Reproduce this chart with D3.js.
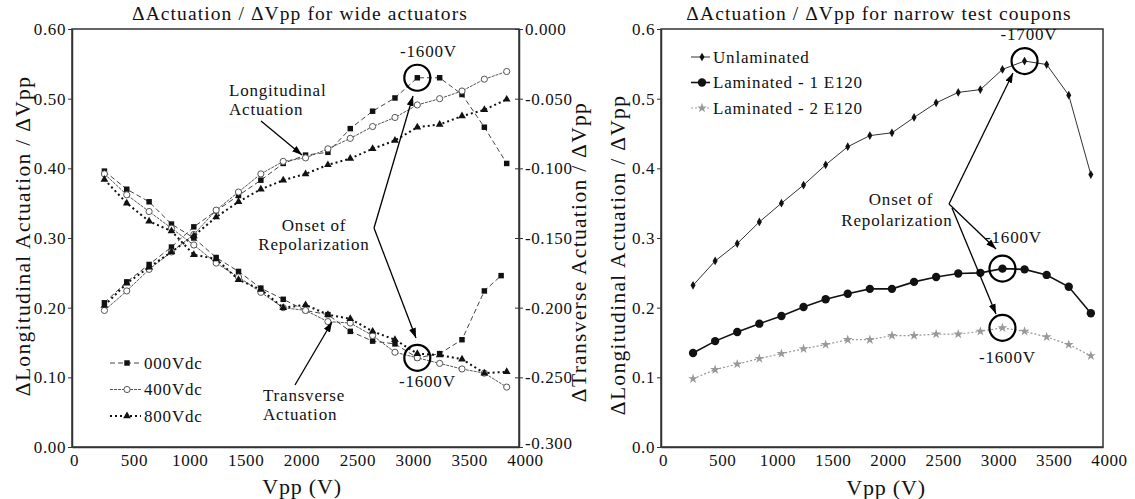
<!DOCTYPE html>
<html>
<head>
<meta charset="utf-8">
<script src="https://cdn.jsdelivr.net/npm/d3@7"></script>
<style>
body { margin: 0; background: #fff; }
svg text { fill: #111; }
</style>
</head>
<body>
<svg id="chart" width="1135" height="499"></svg>
<script>
// ---- data ----
var vpp = [290, 490, 690, 890, 1090, 1290, 1490, 1690, 1890, 2090, 2290, 2490, 2690, 2890, 3090, 3290, 3490, 3690, 3890];
var vppTrans000 = [290, 490, 690, 890, 1090, 1290, 1490, 1690, 1890, 2090, 2290, 2490, 2690, 2890, 3090, 3290, 3490, 3690, 3840];

// wide actuators, longitudinal (left axis)
var long000 = [0.207, 0.237, 0.262, 0.287, 0.316, 0.339, 0.361, 0.383, 0.407, 0.419, 0.423, 0.457, 0.482, 0.501, 0.530, 0.530, 0.506, 0.459, 0.407];
var long400 = [0.196, 0.224, 0.255, 0.280, 0.305, 0.340, 0.366, 0.392, 0.410, 0.415, 0.428, 0.443, 0.460, 0.473, 0.491, 0.500, 0.511, 0.528, 0.539];
var long800 = [0.203, 0.235, 0.258, 0.280, 0.303, 0.330, 0.352, 0.370, 0.383, 0.392, 0.405, 0.414, 0.428, 0.440, 0.459, 0.463, 0.475, 0.484, 0.499];
// wide actuators, transverse (right axis)
var trans000 = [-0.102, -0.115, -0.124, -0.140, -0.150, -0.164, -0.174, -0.186, -0.194, -0.202, -0.205, -0.217, -0.224, -0.226, -0.236, -0.233, -0.223, -0.188, -0.177];
var trans400 = [-0.104, -0.119, -0.131, -0.143, -0.155, -0.168, -0.178, -0.189, -0.200, -0.202, -0.210, -0.211, -0.220, -0.232, -0.236, -0.240, -0.244, -0.247, -0.257];
var trans800 = [-0.108, -0.125, -0.138, -0.145, -0.162, -0.165, -0.180, -0.187, -0.200, -0.198, -0.205, -0.208, -0.217, -0.223, -0.233, -0.234, -0.237, -0.247, -0.246];

// narrow test coupons
var unlaminated = [0.232, 0.267, 0.292, 0.323, 0.350, 0.376, 0.405, 0.431, 0.447, 0.451, 0.473, 0.494, 0.509, 0.513, 0.542, 0.554, 0.549, 0.505, 0.391];
var laminated1 = [0.135, 0.152, 0.165, 0.177, 0.188, 0.201, 0.212, 0.220, 0.227, 0.227, 0.237, 0.244, 0.249, 0.250, 0.256, 0.255, 0.247, 0.230, 0.192];
var laminated2 = [0.098, 0.111, 0.119, 0.127, 0.134, 0.141, 0.147, 0.154, 0.154, 0.160, 0.160, 0.162, 0.162, 0.166, 0.171, 0.166, 0.158, 0.147, 0.131];

var xTicks = [0, 500, 1000, 1500, 2000, 2500, 3000, 3500, 4000];
var yTicksLong = [0, 0.1, 0.2, 0.3, 0.4, 0.5, 0.6];
var yTicksTrans = [-0.3, -0.25, -0.2, -0.15, -0.1, -0.05, 0];
var legendWide = ["000Vdc", "400Vdc", "800Vdc"];
var legendNarrow = ["Unlaminated", "Laminated - 1 E120", "Laminated - 2 E120"];

var serif = "'Liberation Serif', 'DejaVu Serif', serif";

var svg = d3.select("#chart");

svg.append("defs").append("marker")
    .attr("id", "arrow")
    .attr("viewBox", "0 0 10 10")
    .attr("refX", 10).attr("refY", 5)
    .attr("markerWidth", 10).attr("markerHeight", 10)
    .attr("markerUnits", "userSpaceOnUse")
    .attr("orient", "auto")
  .append("path")
    .attr("d", "M0,1.5 L10,5 L0,8.5 Z")
    .style("fill", "#000");

// series styles
var styleWide = [
  {stroke: "#444", width: 1, dash: "5,3", symbol: d3.symbolSquare, size: 30, fill: "#111", sStroke: "none"},
  {stroke: "#555", width: 1, dash: "3,1", symbol: d3.symbolCircle, size: 30, fill: "#fff", sStroke: "#555"},
  {stroke: "#111", width: 2, dash: "2,3", symbol: d3.symbolTriangle, size: 26, fill: "#111", sStroke: "none"}
];
var styleNarrow = [
  {stroke: "#333", width: 1, dash: null, symbol: d3.symbolDiamond, size: 22, fill: "#111", sStroke: "none"},
  {stroke: "#111", width: 1.6, dash: null, symbol: d3.symbolCircle, size: 55, fill: "#111", sStroke: "none"},
  {stroke: "#999", width: 1.2, dash: "2,2", symbol: d3.symbolStar, size: 30, fill: "#999", sStroke: "none"}
];

function txt(sel, size, spacing) {
  return sel.style("font-family", serif)
    .style("font-size", size + "px")
    .style("letter-spacing", (spacing || 0) + "px");
}

function drawSeries(g, xs, ys, x, y, st) {
  var pts = xs.map(function(d, i) { return {x: d, y: ys[i]}; });
  var line = d3.line().x(function(d) { return x(d.x); }).y(function(d) { return y(d.y); });
  g.append("path")
    .datum(pts)
    .style("fill", "none")
    .style("stroke", st.stroke)
    .style("stroke-width", st.width)
    .style("stroke-dasharray", st.dash)
    .attr("d", line);
  g.selectAll(null)
    .data(pts)
    .enter().append("path")
    .attr("transform", function(d) { return "translate(" + x(d.x) + "," + y(d.y) + ")"; })
    .attr("d", d3.symbol().type(st.symbol).size(st.size))
    .style("fill", st.fill)
    .style("stroke", st.sStroke);
}

function legendItem(g, lx, ly, half, label, st) {
  g.append("line")
    .attr("x1", lx - half).attr("x2", lx + half - 3).attr("y1", ly).attr("y2", ly)
    .style("stroke", st.stroke).style("stroke-width", st.width)
    .style("stroke-dasharray", st.dash ? st.dash : null);
  g.append("path")
    .attr("transform", "translate(" + lx + "," + ly + ")")
    .attr("d", d3.symbol().type(st.symbol).size(st.size))
    .style("fill", st.fill).style("stroke", st.sStroke);
  txt(g.append("text"), 17, 0.8)
    .attr("x", lx + half).attr("y", ly)
    .attr("dy", "0.35em")
    .text(label);
}

function note(g, px, py, s, anchor) {
  txt(g.append("text"), 17, 0.8)
    .attr("x", px).attr("y", py)
    .attr("dy", "0.35em")
    .style("text-anchor", anchor || "middle")
    .text(s);
}

function arrow(g, x1, y1, x2, y2) {
  g.append("line")
    .attr("x1", x1).attr("y1", y1).attr("x2", x2).attr("y2", y2)
    .style("stroke", "#000").style("stroke-width", 1.3)
    .attr("marker-end", "url(#arrow)");
}

function ring(g, cx, cy) {
  g.append("circle")
    .attr("cx", cx).attr("cy", cy).attr("r", 13)
    .style("fill", "none").style("stroke", "#000").style("stroke-width", 2.2);
}

function styleAxis(ax) {
  ax.select(".domain").style("stroke", "#333").style("stroke-width", 1.5);
  ax.selectAll(".tick line").style("stroke", "#333");
  txt(ax.selectAll("text"), 17, 0.6);
}

function xAxis(g, x, y0) {
  var ax = g.append("g")
    .attr("transform", "translate(0," + y0 + ")")
    .call(d3.axisBottom(x).tickValues(xTicks).tickSize(0).tickSizeOuter(0).tickPadding(7).tickFormat(d3.format("d")));
  styleAxis(ax);
  // the scanned labels sit a little right of their ticks
  ax.selectAll(".tick text").attr("dx", function(d) { return d === 0 ? 2 : 6; });
}

function title(g, cx, cy, s) {
  txt(g.append("text"), 19.5, 1.1)
    .attr("x", cx).attr("y", cy).attr("dy", "0.35em")
    .style("text-anchor", "middle")
    .text(s);
}

function yTitle(g, cx, cy, s) {
  txt(g.append("text"), 21.5, 1.3)
    .attr("transform", "translate(" + cx + "," + cy + ") rotate(-90)")
    .attr("dy", "0.35em")
    .style("text-anchor", "middle")
    .text(s);
}

// ================= left chart: wide actuators =================
var xL = d3.scaleLinear().domain([0, 4000]).range([72, 519]);
var yL = d3.scaleLinear().domain([0, 0.6]).range([447, 29]);
var yR = d3.scaleLinear().domain([-0.3, 0]).range([447, 29]);

var left = svg.append("g");

left.append("rect")
  .attr("x", xL(0)).attr("y", yL(0.6))
  .attr("width", xL(4000) - xL(0)).attr("height", yL(0) - yL(0.6))
  .style("fill", "none").style("stroke", "#333").style("stroke-width", 1.5);

var axL = left.append("g")
  .attr("transform", "translate(" + xL(0) + ",0)")
  .call(d3.axisLeft(yL).tickValues(yTicksLong).tickSize(4).tickSizeOuter(0).tickPadding(2).tickFormat(d3.format(".2f")));
styleAxis(axL);

var axR = left.append("g")
  .attr("transform", "translate(" + xL(4000) + ",0)")
  .call(d3.axisRight(yR).tickValues(yTicksTrans).tickSize(4).tickSizeOuter(0).tickPadding(2)
    .tickFormat(function(d) { return d.toFixed(3); }));
styleAxis(axR);
axR.selectAll(".tick text").attr("dy", function(d) { return d === -0.3 ? "0.1em" : "0.32em"; });
left.append("g")
  .attr("transform", "translate(" + xL(4000) + ",0)")
  .call(d3.axisLeft(yR).tickValues(yTicksTrans).tickSize(4).tickSizeOuter(0).tickFormat(""))
  .call(function(a) { a.select(".domain").remove(); a.selectAll("line").style("stroke", "#333"); });

xAxis(left, xL, yL(0));

drawSeries(left, vpp, long000, xL, yL, styleWide[0]);
drawSeries(left, vpp, long400, xL, yL, styleWide[1]);
drawSeries(left, vpp, long800, xL, yL, styleWide[2]);
drawSeries(left, vppTrans000, trans000, xL, yR, styleWide[0]);
drawSeries(left, vpp, trans400, xL, yR, styleWide[1]);
drawSeries(left, vpp, trans800, xL, yR, styleWide[2]);

legendWide.forEach(function(name, i) {
  legendItem(left, 127, 363 + i * 26.5, 17, name, styleWide[i]);
});

// annotations
ring(left, xL(vpp[14]), yL(long000[14]));
ring(left, xL(vpp[14]), yR(trans000[14]));
note(left, xL(3190), 51, "-1600V");
note(left, xL(3180), 381, "-1600V");
note(left, 229, 90, "Longitudinal", "start");
note(left, 229, 109, "Actuation", "start");
arrow(left, 261, 121, 302, 155);
note(left, 263, 395, "Transverse", "start");
note(left, 263, 414, "Actuation", "start");
arrow(left, 295, 385, 332, 322);
note(left, 314, 225, "Onset of");
note(left, 314, 244, "Repolarization");
arrow(left, 374, 228, 413, 96);
arrow(left, 374, 228, 416, 338);

title(left, 300, 13, "\u0394Actuation / \u0394Vpp for wide actuators");
txt(left.append("text"), 22, 0.8)
  .attr("x", 302).attr("y", 486).attr("dy", "0.35em")
  .style("text-anchor", "middle")
  .text("Vpp (V)");
yTitle(left, 22, 236, "\u0394Longitudinal Actuation / \u0394Vpp");
yTitle(left, 578, 252, "\u0394Transverse Actuation / \u0394Vpp");

// ================= right chart: narrow coupons =================
var x2 = d3.scaleLinear().domain([0, 4000]).range([661, 1103]);
var y2 = d3.scaleLinear().domain([0, 0.6]).range([447, 29]);

var right = svg.append("g");

right.append("rect")
  .attr("x", x2(0)).attr("y", y2(0.6))
  .attr("width", x2(4000) - x2(0)).attr("height", y2(0) - y2(0.6))
  .style("fill", "none").style("stroke", "#333").style("stroke-width", 1.5);

var ax2 = right.append("g")
  .attr("transform", "translate(" + x2(0) + ",0)")
  .call(d3.axisLeft(y2).tickValues(yTicksLong).tickSize(4).tickSizeOuter(0).tickPadding(2).tickFormat(d3.format(".1f")));
styleAxis(ax2);

xAxis(right, x2, y2(0));

drawSeries(right, vpp, unlaminated, x2, y2, styleNarrow[0]);
drawSeries(right, vpp, laminated1, x2, y2, styleNarrow[1]);
drawSeries(right, vpp, laminated2, x2, y2, styleNarrow[2]);

legendNarrow.forEach(function(name, i) {
  legendItem(right, 702, 57 + i * 25.5, 11, name, styleNarrow[i]);
});

ring(right, x2(vpp[15]), y2(unlaminated[15]));
ring(right, x2(vpp[14]), y2(laminated1[14]));
ring(right, x2(vpp[14]), y2(laminated2[14]));
note(right, x2(3330), 34, "-1700V");
note(right, x2(3190), 237, "-1600V");
note(right, x2(3135), 357, "-1600V");
note(right, 901, 199, "Onset of");
note(right, 897, 220, "Repolarization");
arrow(right, 949, 204, 1013, 73);
arrow(right, 949, 204, 996, 249);
arrow(right, 952, 208, 996, 314);

title(right, 879, 13, "\u0394Actuation / \u0394Vpp for narrow test coupons");
txt(right.append("text"), 22, 0.8)
  .attr("x", 886).attr("y", 487).attr("dy", "0.35em")
  .style("text-anchor", "middle")
  .text("Vpp (V)");
yTitle(right, 617, 255, "\u0394Longitudinal Actuation / \u0394Vpp");
</script>
</body>
</html>
